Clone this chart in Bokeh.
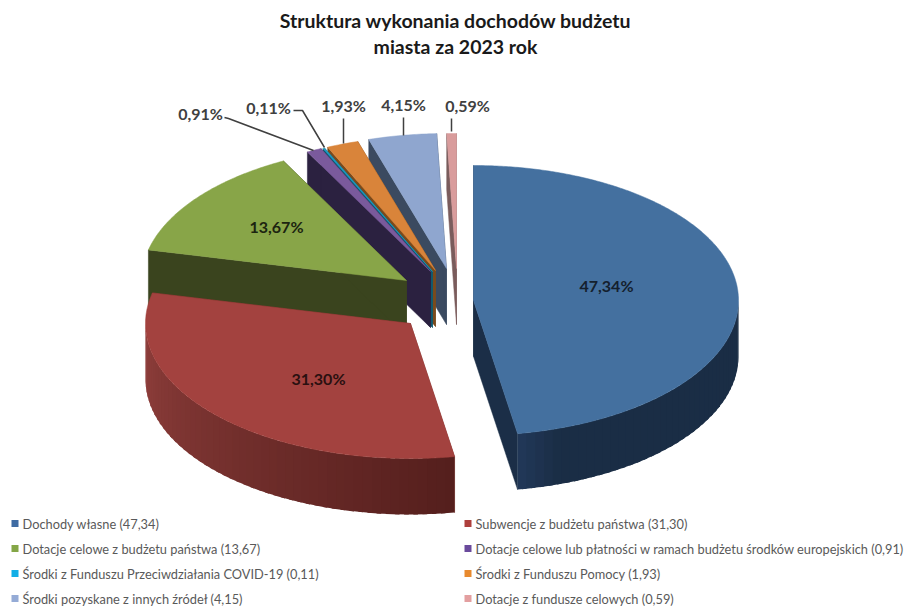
import numpy as np
from bokeh.plotting import figure
from bokeh.models import Range1d
from bokeh.core.properties import value
from bokeh.embed import file_html
from bokeh.resources import INLINE

# --- data
categories = ["Dochody własne", "Subwencje z budżetu państwa",
              "Dotacje celowe z budżetu państwa",
              "Dotacje celowe lub płatności w ramach budżetu środków europejskich",
              "Środki z Funduszu Przeciwdziałania COVID-19", "Środki z Funduszu Pomocy",
              "Środki pozyskane z innych źródeł", "Dotacje z fundusze celowych"]
shares = [47.34, 31.30, 13.67, 0.91, 0.11, 1.93, 4.15, 0.59]
title_lines = ["Struktura wykonania dochodów budżetu", "miasta za 2023 rok"]

# --- style and layout
top_colors = ["#44709f", "#a3423f", "#88a548", "#7a5a9c", "#1f9cc4", "#d9843a", "#8fa6cf", "#d99c9c"]
face_colors = ["#1b2e47", "#7a2e2b", "#3a441e", "#2b2140", "#0f5a70", "#7a4a1c", "#3b4a60", "#7a5c5c"]
rim_light = ["#22395a", "#903f3c", "#3a441e", "#2b2140", "#0f5a70", "#7a4a1c", "#3b4a60", "#7a5c5c"]
rim_dark = ["#1a2d45", "#551f1d", "#3a441e", "#2b2140", "#0f5a70", "#7a4a1c", "#3b4a60", "#7a5c5c"]
legend_colors = ["#3f6ba3", "#ae3f3c", "#84a646", "#6a4a9c", "#12aee6", "#e88a2e", "#95abd6", "#e39fa0"]
apex_x = [473, 410, 406, 430, 432, 435, 446, 456]
apex_y = [300, 323, 280, 271, 271, 270, 268, 268]
RX, RY, DEPTH = 265, 135, 56
label_x = [606, 318, 276, 200, 268, 343, 403, 467]
label_y = [285, 378, 226, 113, 107, 105, 104, 105]
leaders_x = [[224, 228, 313], [293, 302, 324], [343, 343], [403, 403], [451, 451]]
leaders_y = [[117, 118, 150], [110, 110, 147], [118, 143], [117, 135], [118, 131]]
leg_col_marker = [14.5, 467.5]
leg_col_text = [22, 475]
leg_rows = [523, 548, 573, 598]
FONT = "Lato"


def pct(v):
    return f"{v:.2f}".replace(".", ",")


def hex2rgb(h):
    return np.array([int(h[i:i + 2], 16) for i in (1, 3, 5)], float)


def mix(a, b, f):
    c = hex2rgb(a) * (1 - f) + hex2rgb(b) * f
    return "#%02x%02x%02x" % tuple(int(round(v)) for v in c)


p = figure(width=906, height=610, x_range=Range1d(0, 906), y_range=Range1d(610, 0),
           toolbar_location=None, output_backend="svg", min_border=0, outline_line_color=None)
p.axis.visible = False
p.grid.visible = False

cum = np.cumsum([0] + shares) / sum(shares) * 360.0
for i in [7, 6, 5, 4, 3, 2, 1, 0]:
    a0, a1 = cum[i], cum[i + 1]
    cx, cy = apex_x[i], apex_y[i]
    t = np.radians(np.linspace(a0, a1, max(int(a1 - a0) * 2, 4)))
    ex = cx + RX * np.sin(t)
    ey = cy - RY * np.cos(t)
    # radial side faces
    for k in (0, -1):
        p.patch([cx, ex[k], ex[k], cx], [cy, ey[k], ey[k] + DEPTH, cy + DEPTH],
                fill_color=face_colors[i], line_color=face_colors[i], line_width=0.5)
    # outer rim with shading
    lo, hi = max(a0, 90), min(a1, 270)
    if hi > lo:
        n = int((hi - lo) / 2) + 1
        ts = np.linspace(lo, hi, n + 1)
        for j in range(n):
            q = np.radians([ts[j], min(ts[j + 1] + 1.0, hi)])
            qx = cx + RX * np.sin(q)
            qy = cy - RY * np.cos(q)
            if i == 1:
                col = mix(rim_dark[i], rim_light[i], (ts[j] - lo) / (hi - lo))
            else:
                f = max(0.0, 1 - (ts[j] - 160) / 10.0) if ts[j] > 160 else 1
                col = mix(rim_light[i], rim_dark[i], f)
            p.patch([qx[0], qx[1], qx[1], qx[0]], [qy[0], qy[1], qy[1] + DEPTH, qy[0] + DEPTH],
                    fill_color=col, line_color=None)
    # top
    p.patch([cx, *ex], [cy, *ey], fill_color=top_colors[i], line_color=top_colors[i], line_width=0.5)

# leader lines
p.multi_line(leaders_x, leaders_y, line_color="#404040", line_width=1.5)

# value labels
label_colors = ["#14202e", "#2a1010", "#1c2410", "#404040", "#404040", "#404040", "#404040", "#404040"]
p.text(label_x, label_y, text=[pct(v) + "%" for v in shares], text_font=value(FONT),
       text_font_style="bold", text_font_size="16px", text_align="center",
       text_baseline="middle", text_color=label_colors)

# title
p.text([455, 455], [20, 46], text=title_lines, text_font=value(FONT), text_font_style="bold",
       text_font_size="19.5px", text_align="center", text_baseline="middle", text_color="#1a1a1a")

# legend
mx = [leg_col_marker[i % 2] for i in range(8)]
tx = [leg_col_text[i % 2] for i in range(8)]
ly = [leg_rows[i // 2] for i in range(8)]
p.scatter(mx, ly, marker="square", size=7, fill_color=legend_colors, line_color=None)
p.text(tx, ly, text=[f"{c} ({pct(v)})" for c, v in zip(categories, shares)], text_font=value(FONT),
       text_font_size="12.8px", text_baseline="middle", text_color="#595959")

open("out.html", "w").write(file_html(p, INLINE))
